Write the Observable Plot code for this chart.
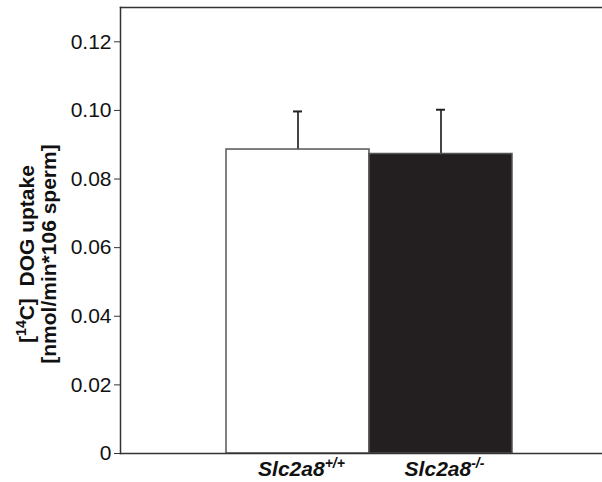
<!DOCTYPE html>
<html>
<head>
<meta charset="utf-8">
<script src="https://cdn.jsdelivr.net/npm/d3@7"></script>
<script src="https://cdn.jsdelivr.net/npm/@observablehq/plot@0.6"></script>
<style>
  html, body { margin: 0; padding: 0; background: #fff; }
  #chart svg { display: block; }
</style>
</head>
<body>
<div id="chart"></div>
<script>
// Data
const genotypes = ["Slc2a8+/+", "Slc2a8-/-"];
const genotypeBase = ["Slc2a8", "Slc2a8"];
const genotypeSup = ["+/+", "-/-"];
const uptake = [0.0886, 0.0873];
const uptakeErr = [0.0111, 0.0129];
const fills = ["#ffffff", "#231f20"];
const yTicks = [0, 0.02, 0.04, 0.06, 0.08, 0.10, 0.12];

const data = genotypes.map((g, i) => ({
  g, v: uptake[i], hi: uptake[i] + uptakeErr[i], fill: fills[i]
}));

const FONT = "'Liberation Sans', Arial, Helvetica, sans-serif";

const plot = Plot.plot({
  width: 602,
  height: 482,
  marginLeft: 120,
  marginRight: 0,
  marginTop: 7,
  marginBottom: 29,
  style: {fontFamily: FONT, fontSize: "21px", color: "#222", background: "#fff"},
  x: {domain: genotypes, paddingInner: 0, paddingOuter: 0.685, align: 0.54, axis: null},
  y: {domain: [0, 0.13], axis: null},
  marks: [
    Plot.ruleX(data, {x: "g", y1: "v", y2: "hi", stroke: "#444", strokeWidth: 2}),
    Plot.tickY(data, {x: "g", y: "hi", stroke: "#222", strokeWidth: 2, inset: 67}),
    Plot.barY(data, {x: "g", y: "v", fill: "fill", stroke: "#555", strokeWidth: 1.5}),
    Plot.axisY({ticks: yTicks, tickSize: 6, tickPadding: 3, tickFormat: d => d === 0 ? "0" : d.toFixed(2), stroke: "#333", fill: "#111", fontSize: 21, label: null}),
    Plot.frame({anchor: "left", stroke: "#333", strokeWidth: 1.5}),
    Plot.frame({anchor: "top", stroke: "#333", strokeWidth: 1.5}),
    Plot.frame({anchor: "bottom", stroke: "#333", strokeWidth: 1.5})
  ]
});

document.getElementById("chart").appendChild(plot);

const svg = d3.select(plot);
const xs = plot.scale("x");

// X tick labels (bold italic with superscripts)
genotypes.forEach((g, i) => {
  const cx = xs.apply(g) + xs.bandwidth / 2 + 4;
  const t = svg.append("text")
    .attr("x", cx).attr("y", 476)
    .attr("text-anchor", "middle")
    .attr("font-family", FONT)
    .attr("font-weight", "bold").attr("font-style", "italic")
    .attr("font-size", 21).attr("fill", "#111");
  t.append("tspan").text(genotypeBase[i]);
  t.append("tspan").attr("dy", -8).attr("font-size", 14).text(genotypeSup[i]);
});

// Y axis label (two lines, rotated)
const lbl = svg.append("g")
  .attr("transform", "translate(0,254) rotate(-90)")
  .attr("font-family", FONT)
  .attr("font-weight", "bold").attr("font-size", 21).attr("fill", "#111")
  .attr("text-anchor", "middle");
const l1 = lbl.append("text").attr("x", 0).attr("y", 34);
l1.append("tspan").text("[");
l1.append("tspan").attr("dy", -8).attr("font-size", 14).text("14");
l1.append("tspan").attr("dy", 8).text("C]  DOG uptake");
lbl.append("text").attr("x", 0).attr("y", 56).text("[nmol/min*106 sperm]");
</script>
</body>
</html>
